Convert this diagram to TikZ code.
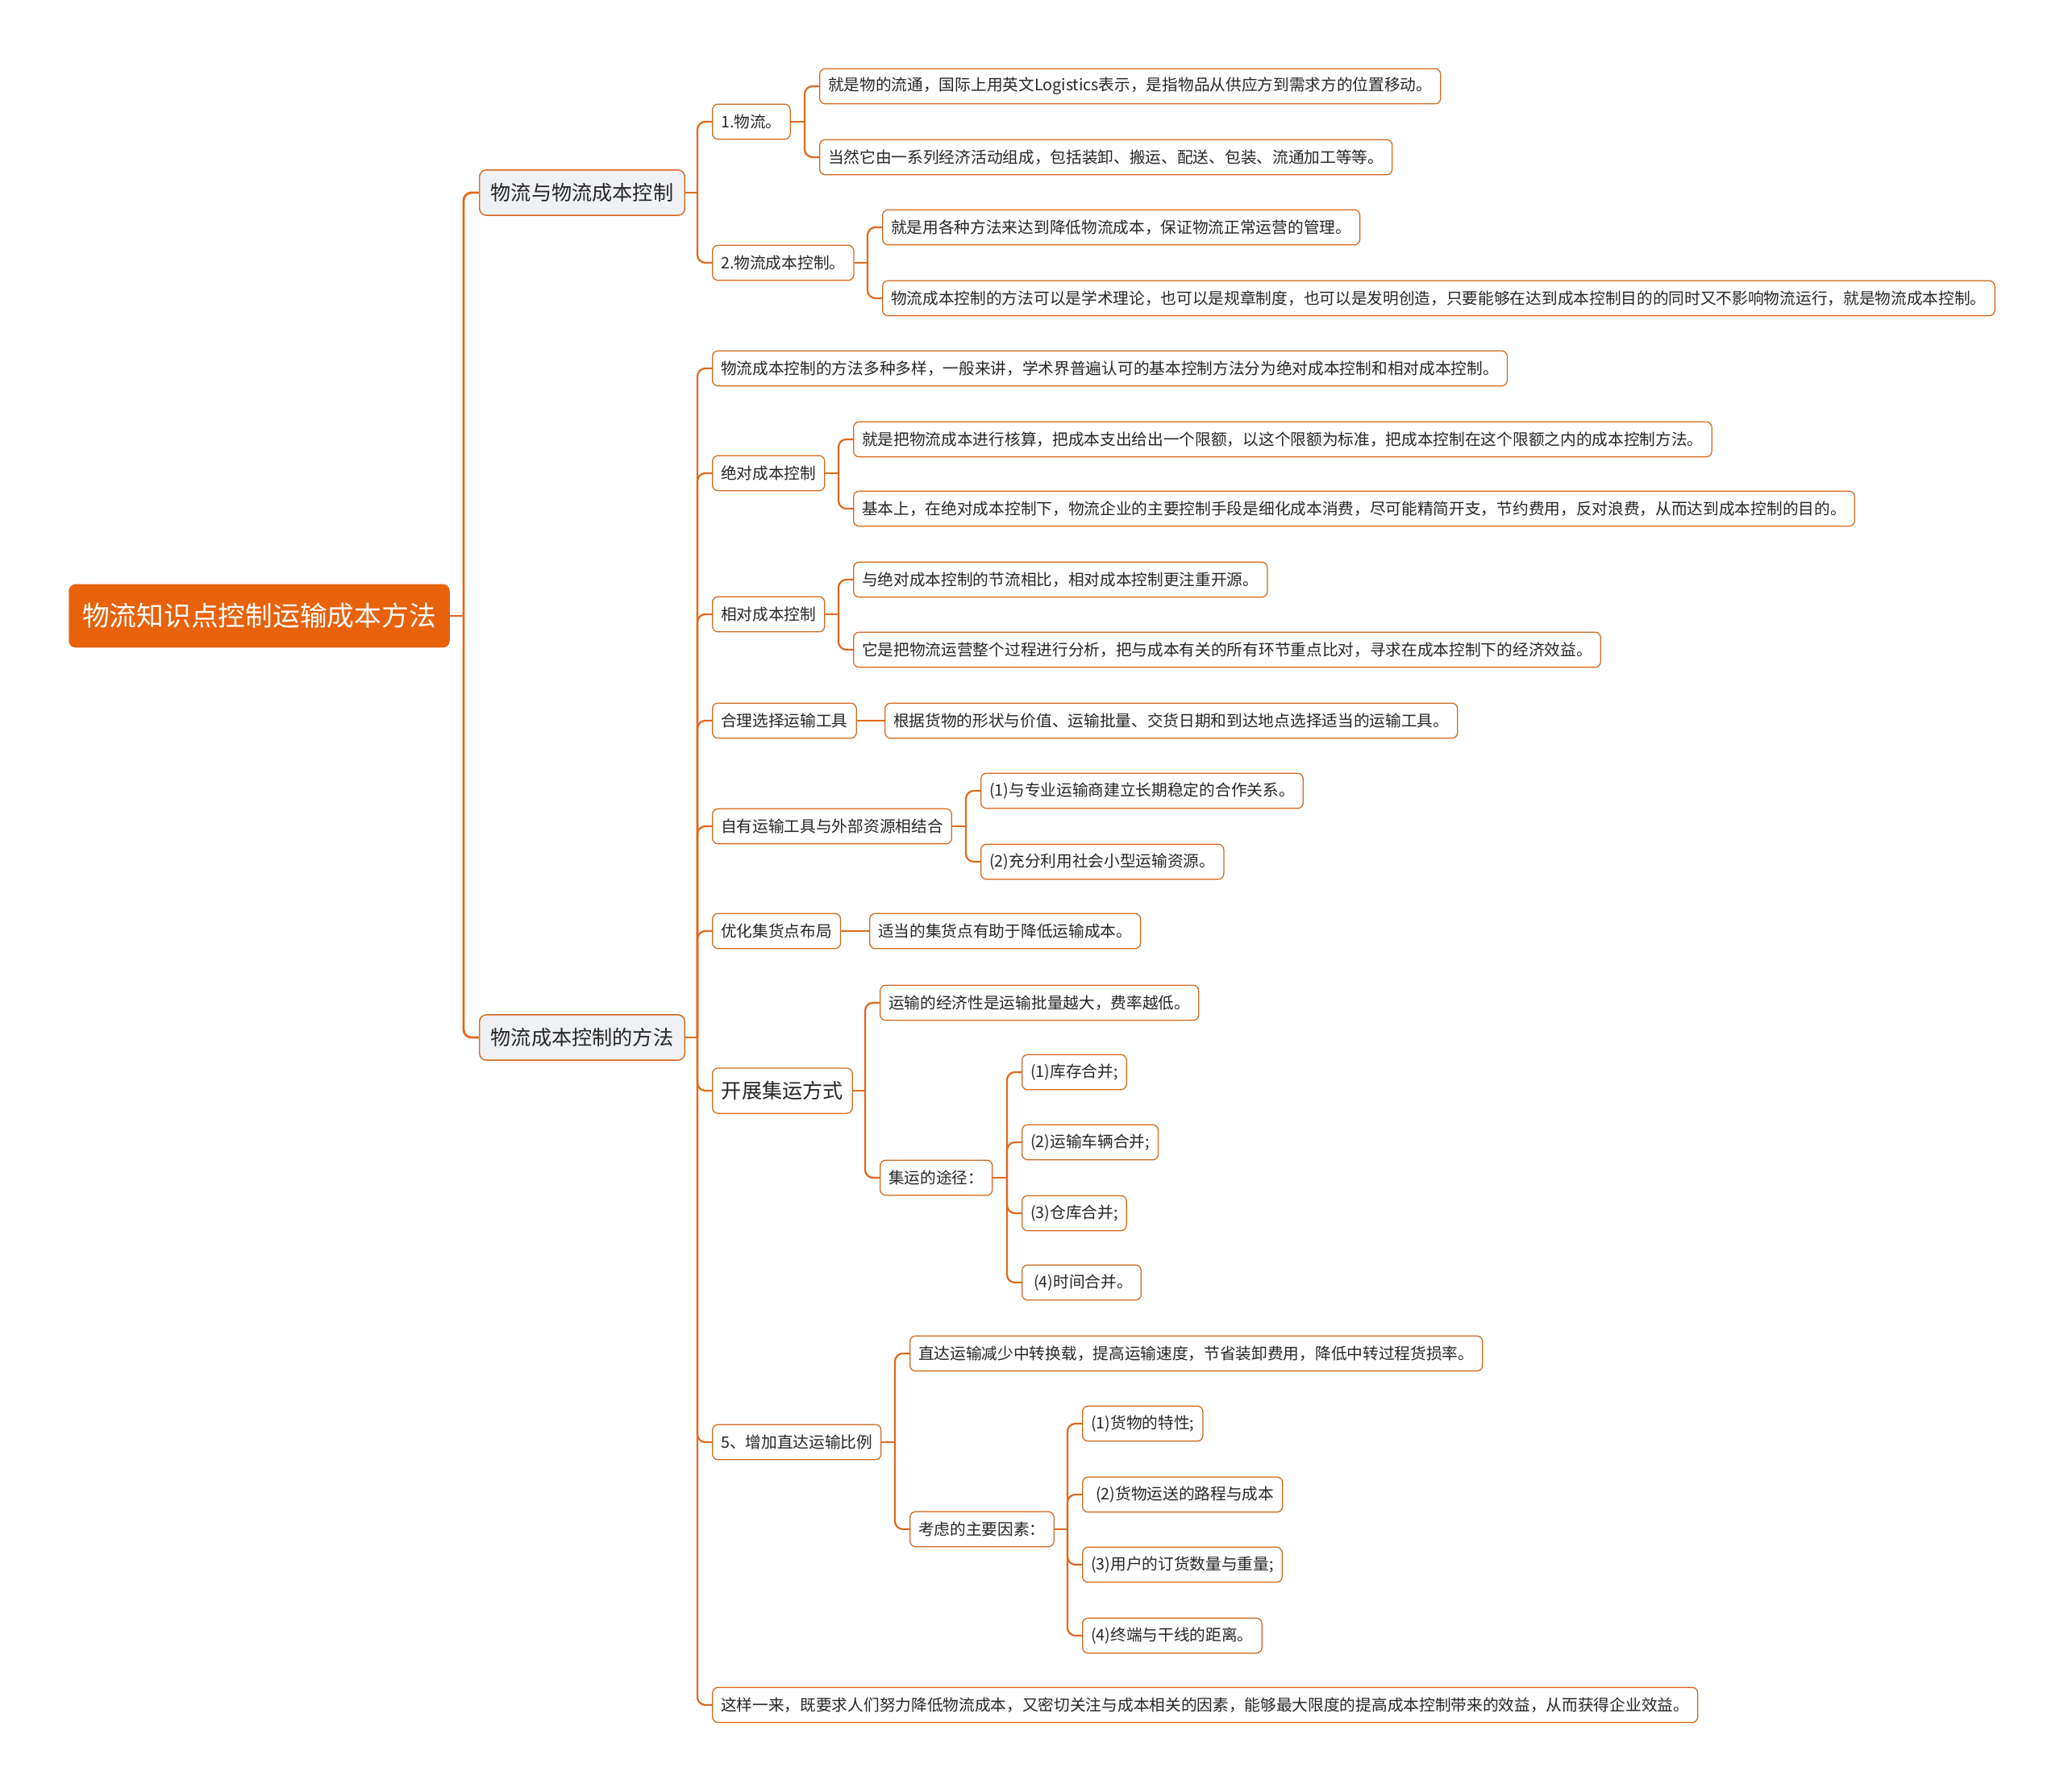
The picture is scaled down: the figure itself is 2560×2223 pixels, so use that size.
\documentclass[tikz,border=0pt]{standalone}
\usepackage{fontspec}
\setmainfont{Noto Sans CJK SC}
\usepackage{tikz}
\definecolor{mainorange}{HTML}{E8620C}
\definecolor{linkorange}{HTML}{E06A1E}
\definecolor{boxline}{HTML}{D2691E}
\definecolor{topicgray}{HTML}{EFF1F4}
\definecolor{inktext}{HTML}{262626}

\tikzset{
	rootbox/.style={fill=mainorange, rounded corners=6pt, text=white, font=\fontsize{24}{28}\selectfont, minimum height=56pt, inner xsep=12pt, anchor=west},
	topicbox/.style={draw=boxline, line width=1pt, fill=topicgray, rounded corners=6pt, text=inktext, font=\fontsize{17.9}{21}\selectfont, minimum height=40pt, inner xsep=10pt, anchor=west},
	leafbox/.style={draw=boxline, line width=0.9pt, fill=white, rounded corners=5pt, text=inktext, font=\fontsize{14}{16}\selectfont, minimum height=31pt, inner xsep=7.5pt, anchor=west},
	bigleaf/.style={leafbox, font=\fontsize{17.9}{21}\selectfont, minimum height=40pt, inner xsep=8pt},
	link/.style={draw=linkorange, line width=1.6pt, rounded corners=7pt},
	mainlink/.style={link, line width=2pt},
}

\begin{document}
\begin{tikzpicture}[x=0.025cm, y=-0.025cm]
	\useasboundingbox (0,0) rectangle (2560,2223);
	% root and main topics
	\node[rootbox] (root) at (85,764) {物流知识点控制运输成本方法};
	\node[topicbox] (wl) at (594,239) {物流与物流成本控制};
	\node[topicbox] (ff) at (594,1287) {物流成本控制的方法};
	\coordinate (roott) at (575,764);
	\draw[mainlink] (root.east) -- (roott);
	\foreach \c in {wl,ff} \draw[mainlink] (roott) |- (\c.west);

	% 物流与物流成本控制
	\node[leafbox] (p1) at (883,151) {1.物流。};
	\node[leafbox] (p1a) at (1016,107) {就是物的流通，国际上用英文Logistics表示，是指物品从供应方到需求方的位置移动。};
	\node[leafbox] (p1b) at (1016,195) {当然它由一系列经济活动组成，包括装卸、搬运、配送、包装、流通加工等等。};
	\node[leafbox] (p2) at (883,326) {2.物流成本控制。};
	\node[leafbox] (p2a) at (1094,282) {就是用各种方法来达到降低物流成本，保证物流正常运营的管理。};
	\node[leafbox] (p2b) at (1094,370) {物流成本控制的方法可以是学术理论，也可以是规章制度，也可以是发明创造，只要能够在达到成本控制目的的同时又不影响物流运行，就是物流成本控制。};
	\coordinate (wlt) at (865,239);
	\coordinate (p1t) at (998,151);
	\coordinate (p2t) at (1076,326);
	\draw[link] (wl.east) -- (wlt);
	\foreach \c in {p1,p2} \draw[link] (wlt) |- (\c.west);
	\draw[link] (p1.east) -- (p1t);
	\foreach \c in {p1a,p1b} \draw[link] (p1t) |- (\c.west);
	\draw[link] (p2.east) -- (p2t);
	\foreach \c in {p2a,p2b} \draw[link] (p2t) |- (\c.west);

	% 物流成本控制的方法
	\node[leafbox] (m0) at (883,457) {物流成本控制的方法多种多样，一般来讲，学术界普遍认可的基本控制方法分为绝对成本控制和相对成本控制。};
	\node[leafbox] (m1) at (883,587) {绝对成本控制};
	\node[leafbox] (m1a) at (1058,545) {就是把物流成本进行核算，把成本支出给出一个限额，以这个限额为标准，把成本控制在这个限额之内的成本控制方法。};
	\node[leafbox] (m1b) at (1058,631) {基本上，在绝对成本控制下，物流企业的主要控制手段是细化成本消费，尽可能精简开支，节约费用，反对浪费，从而达到成本控制的目的。};
	\node[leafbox] (m2) at (883,762) {相对成本控制};
	\node[leafbox] (m2a) at (1058,719) {与绝对成本控制的节流相比，相对成本控制更注重开源。};
	\node[leafbox] (m2b) at (1058,806) {它是把物流运营整个过程进行分析，把与成本有关的所有环节重点比对，寻求在成本控制下的经济效益。};
	\node[leafbox] (m3) at (883,894) {合理选择运输工具};
	\node[leafbox] (m3a) at (1097,894) {根据货物的形状与价值、运输批量、交货日期和到达地点选择适当的运输工具。};
	\node[leafbox] (m4) at (883,1025) {自有运输工具与外部资源相结合};
	\node[leafbox] (m4a) at (1216,981) {(1)与专业运输商建立长期稳定的合作关系。};
	\node[leafbox] (m4b) at (1216,1069) {(2)充分利用社会小型运输资源。};
	\node[leafbox] (m5) at (883,1155) {优化集货点布局};
	\node[leafbox] (m5a) at (1078,1155) {适当的集货点有助于降低运输成本。};
	\node[bigleaf] (m6) at (883,1353) {开展集运方式};
	\node[leafbox] (m6a) at (1091,1244) {运输的经济性是运输批量越大，费率越低。};
	\node[leafbox] (m6b) at (1091,1461) {集运的途径：};
	\node[leafbox] (m6b1) at (1267,1330) {(1)库存合并;};
	\node[leafbox] (m6b2) at (1267,1417) {(2)运输车辆合并;};
	\node[leafbox] (m6b3) at (1267,1505) {(3)仓库合并;};
	\node[leafbox] (m6b4) at (1267,1591) {\hspace{0.2em}(4)时间合并。};
	\node[leafbox] (m7) at (883,1789) {5、增加直达运输比例};
	\node[leafbox] (m7a) at (1128,1679) {直达运输减少中转换载，提高运输速度，节省装卸费用，降低中转过程货损率。};
	\node[leafbox] (m7b) at (1128,1897) {考虑的主要因素：};
	\node[leafbox] (m7b1) at (1342,1766) {(1)货物的特性;};
	\node[leafbox] (m7b2) at (1342,1854) {\hspace{0.3em}(2)货物运送的路程与成本};
	\node[leafbox] (m7b3) at (1342,1941) {(3)用户的订货数量与重量;};
	\node[leafbox] (m7b4) at (1342,2029) {(4)终端与干线的距离。};
	\node[leafbox] (m8) at (883,2115) {这样一来，既要求人们努力降低物流成本，又密切关注与成本相关的因素，能够最大限度的提高成本控制带来的效益，从而获得企业效益。};

	\coordinate (fft) at (865,1287);
	\coordinate (m1t) at (1040,587);
	\coordinate (m2t) at (1040,762);
	\coordinate (m4t) at (1198,1025);
	\coordinate (m6t) at (1073,1353);
	\coordinate (m6bt) at (1249,1461);
	\coordinate (m7t) at (1110,1789);
	\coordinate (m7bt) at (1324,1897);
	\draw[link] (ff.east) -- (fft);
	\foreach \c in {m0,m1,m2,m3,m4,m5,m6,m7,m8} \draw[link] (fft) |- (\c.west);
	\draw[link] (m1.east) -- (m1t);
	\foreach \c in {m1a,m1b} \draw[link] (m1t) |- (\c.west);
	\draw[link] (m2.east) -- (m2t);
	\foreach \c in {m2a,m2b} \draw[link] (m2t) |- (\c.west);
	\draw[link] (m3.east) -- (m3a.west);
	\draw[link] (m4.east) -- (m4t);
	\foreach \c in {m4a,m4b} \draw[link] (m4t) |- (\c.west);
	\draw[link] (m5.east) -- (m5a.west);
	\draw[link] (m6.east) -- (m6t);
	\foreach \c in {m6a,m6b} \draw[link] (m6t) |- (\c.west);
	\draw[link] (m6b.east) -- (m6bt);
	\foreach \c in {m6b1,m6b2,m6b3,m6b4} \draw[link] (m6bt) |- (\c.west);
	\draw[link] (m7.east) -- (m7t);
	\foreach \c in {m7a,m7b} \draw[link] (m7t) |- (\c.west);
	\draw[link] (m7b.east) -- (m7bt);
	\foreach \c in {m7b1,m7b2,m7b3,m7b4} \draw[link] (m7bt) |- (\c.west);
\end{tikzpicture}
\end{document}
